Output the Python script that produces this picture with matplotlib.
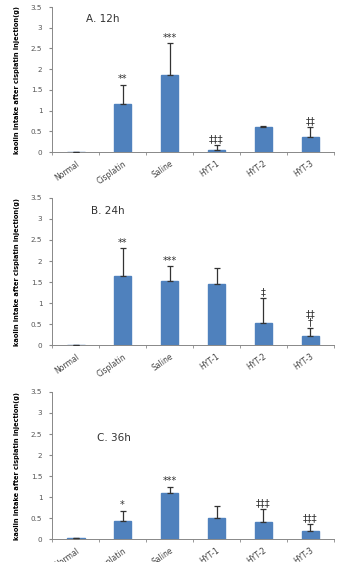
import numpy as np
import matplotlib.pyplot as plt

groups = ['Normal', 'Cisplatin', 'Saline', 'HYT-1', 'HYT-2', 'HYT-3']

mean_12h = [0.01, 1.17, 1.87, 0.06, 0.60, 0.36]
err_12h = [0.0, 0.45, 0.75, 0.11, 0.04, 0.25]
sig_12h = ['', '**', '***', '‡‡‡', '', '‡‡']

mean_24h = [0.01, 1.65, 1.52, 1.45, 0.52, 0.22]
err_24h = [0.0, 0.65, 0.35, 0.38, 0.60, 0.18]
sig_24h = ['', '**', '***', '', '‡', '‡‡\n†']

mean_36h = [0.02, 0.42, 1.10, 0.50, 0.40, 0.20]
err_36h = [0.0, 0.25, 0.14, 0.28, 0.32, 0.16]
sig_36h = ['', '*', '***', '', '‡‡‡', '‡‡‡']

titles = ['A. 12h', 'B. 24h', 'C. 36h']
title_pos = [(0.22, 3.2), (0.33, 3.2), (0.45, 2.4)]
yticks = [0, 0.5, 1, 1.5, 2, 2.5, 3, 3.5]
ytlabels = ['0', '0.5', '1', '1.5', '2', '2.5', '3', '3.5']

panels = [(mean_12h, err_12h, sig_12h), (mean_24h, err_24h, sig_24h), (mean_36h, err_36h, sig_36h)]
boxes = [[0.151, 0.7295, 0.817, 0.258],
         [0.151, 0.3861, 0.817, 0.2616],
         [0.151, 0.0409, 0.817, 0.2616]]

fig = plt.figure(figsize=(3.45, 5.62), dpi=100)
x = np.arange(len(groups))
grey = '#888888'

for i, (m, e, s) in enumerate(panels):
    ax = fig.add_axes(boxes[i])
    ax.bar(x, m, width=0.38, color='#4F81BD', edgecolor='#4F81BD', zorder=2)
    ax.errorbar(x, m, yerr=[np.zeros(len(e)), e], fmt='none', ecolor='#333333',
                elinewidth=0.9, capsize=2.5, capthick=0.9, zorder=3)
    for xi, mi, ei, si in zip(x, m, e, s):
        if si:
            ax.text(xi, mi + ei + 0.02, si, ha='center', va='bottom', fontsize=7,
                    color='#333333', linespacing=0.75)
    ax.set_xlim(-0.5, len(groups) - 0.5)
    ax.set_ylim(0, 3.5)
    ax.set_yticks(yticks)
    ax.set_yticklabels(ytlabels, fontsize=5.2, color='#555555')
    ax.set_xticks(x)
    ax.set_xticklabels(groups, rotation=35, ha='right', rotation_mode='anchor',
                       fontsize=5.5, color='#444444')
    ax.set_xticks(np.arange(-0.5, len(groups)), minor=True)
    ax.tick_params(axis='x', which='major', length=0, pad=5)
    ax.tick_params(axis='x', which='minor', length=2, color=grey, direction='out')
    ax.tick_params(axis='y', length=2, color=grey, direction='out', pad=5)
    for sp in ['top', 'right']:
        ax.spines[sp].set_visible(False)
    ax.spines['left'].set_color(grey)
    ax.spines['bottom'].set_color(grey)
    ax.spines['left'].set_linewidth(0.7)
    ax.spines['bottom'].set_linewidth(0.7)
    ax.text(title_pos[i][0], title_pos[i][1], titles[i], fontsize=7.5,
            color='#333333', ha='left', va='center')
    ax.set_ylabel('kaolin intake after cisplatin injection(g)', fontsize=5.3,
                  fontweight='bold', fontstretch='condensed', labelpad=8)

fig.savefig('out.png', dpi=100)
